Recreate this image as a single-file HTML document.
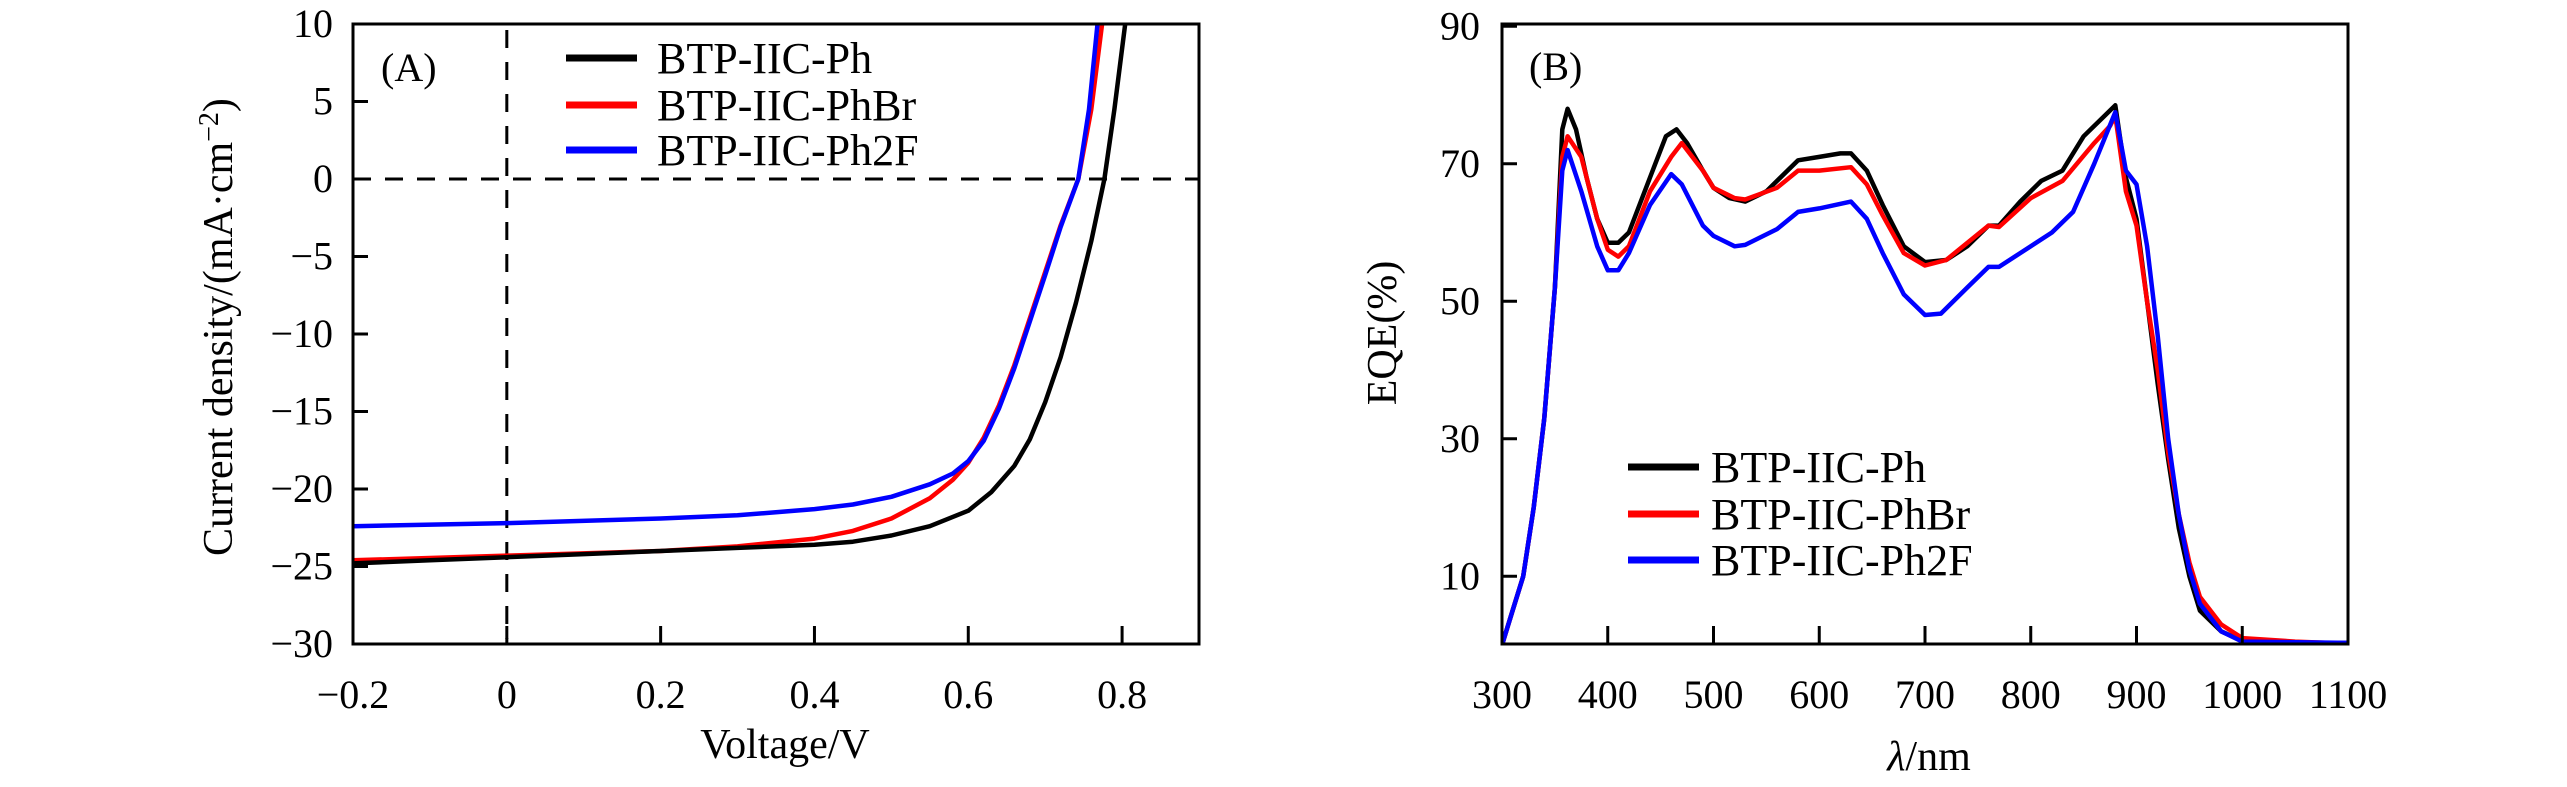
<!DOCTYPE html>
<html><head><meta charset="utf-8"><style>
html,body{margin:0;padding:0;background:#fff;width:2567px;height:787px;overflow:hidden}
svg{display:block}
text{font-family:"Liberation Serif",serif;fill:#000}
</style></head><body>
<svg id="chart" width="2567" height="787" viewBox="0 0 2567 787">
<g id="pa"></g>
<g id="pb"></g>
</svg>
<script>
// Panel A data (J-V)
const vPh=[-0.2,-0.1,0,0.1,0.2,0.3,0.4,0.45,0.5,0.55,0.6,0.63,0.66,0.68,0.7,0.72,0.74,0.76,0.777,0.79,0.804];
const jPh=[-24.8,-24.6,-24.4,-24.2,-24.0,-23.8,-23.6,-23.4,-23.0,-22.4,-21.4,-20.2,-18.5,-16.8,-14.4,-11.5,-8.0,-4.0,0,4.5,10];
const vPhBr=[-0.2,0,0.2,0.3,0.4,0.45,0.5,0.55,0.58,0.6,0.62,0.64,0.66,0.68,0.7,0.72,0.743,0.76,0.774];
const jPhBr=[-24.6,-24.3,-24.0,-23.7,-23.2,-22.7,-21.9,-20.6,-19.4,-18.3,-16.7,-14.6,-12,-9,-6,-3,0,4.5,10];
const vPh2F=[-0.2,0,0.2,0.3,0.4,0.45,0.5,0.55,0.58,0.6,0.62,0.64,0.66,0.68,0.7,0.72,0.743,0.757,0.768];
const jPh2F=[-22.4,-22.2,-21.9,-21.7,-21.3,-21.0,-20.5,-19.7,-19.0,-18.2,-16.9,-14.8,-12.2,-9.2,-6.2,-3.1,0,4.5,10];
const aXTicks=[-0.2,0,0.2,0.4,0.6,0.8];
const aXLabels=["\u22120.2","0","0.2","0.4","0.6","0.8"];
const aYTicks=[10,5,0,-5,-10,-15,-20,-25,-30];
const aYLabels=["10","5","0","\u22125","\u221210","\u221215","\u221220","\u221225","\u221230"];
// Panel B data (EQE)
const wPh=[300,310,320,330,340,350,357,362,370,380,390,400,410,420,440,455,465,475,490,500,515,530,550,570,580,600,620,630,645,660,680,700,720,740,760,770,790,810,830,850,870,880,890,900,910,920,930,940,950,960,980,1000,1050,1100];
const ePh=[0,5,10,20,33,52,75,78,75,68,62,58.5,58.5,60,68,74,75,73,69,66.5,65,64.5,66,69,70.5,71,71.5,71.5,69,64,58,55.7,56,58,61,61,64.5,67.5,69,74,77,78.5,68,62,50,38,27,17,10,5,2,0.6,0.3,0.3];
const wPhBr=[300,310,320,330,340,350,357,362,375,390,400,410,420,440,460,470,490,500,520,530,560,580,600,630,645,660,680,700,720,760,770,800,830,860,875,880,890,900,910,920,930,940,950,960,980,1000,1050,1100];
const ePhBr=[0,5,10,20,33,52,71,74,71,62,57.5,56.5,58,66,71,73,69,66.5,65,64.8,66.5,69,69,69.5,67,62.5,57,55.2,56,61,60.8,65,67.5,73,75.5,77,66,61,50,40,28,19,12,7,3,1,0.5,0.2];
const wPh2F=[300,310,320,330,340,350,357,362,375,390,400,410,420,440,460,470,490,500,520,530,560,580,600,630,645,660,680,700,715,740,760,770,790,820,840,860,880,890,900,910,920,930,940,950,960,980,1000,1100];
const ePh2F=[0,5,10,20,33,52,69,72,66,58,54.5,54.5,57,64,68.5,67,61,59.5,58,58.2,60.5,63,63.5,64.5,62,57,51,48,48.2,52,55,55,57,60,63,70,77.5,69,67,58,45,30,19,11,6,2,0.5,0.3];
const bXTicks=[300,400,500,600,700,800,900,1000,1100];
const bYTicks=[10,30,50,70,90];

const NS="http://www.w3.org/2000/svg";
function mk(parent,tag,attrs,txt){const e=document.createElementNS(NS,tag);for(const k in attrs)e.setAttribute(k,attrs[k]);if(txt!==undefined)e.textContent=txt;parent.appendChild(e);return e;}

// ---------- Panel A ----------
const pa=document.getElementById('pa');
const AL=353,AR=1199,AT=24,AB=644;
const ax=v=>AL+(v+0.2)/1.1*(AR-AL);
const ay=j=>AT+(10-j)/40*(AB-AT);
function lineA(vs,js,color,name){
  let d=vs.map((v,i)=>(i?'L':'M')+ax(v).toFixed(1)+' '+ay(js[i]).toFixed(1)).join(' ');
  const p=mk(pa,'path',{d:d,fill:'none',stroke:color,'stroke-width':4.5,'stroke-linejoin':'round','clip-path':'url(#clipA)'});
  
  
}
const defs=mk(document.getElementById('chart'),'defs',{});
const ca=mk(defs,'clipPath',{id:'clipA'});mk(ca,'rect',{x:AL,y:AT,width:AR-AL,height:AB-AT});
const cb=mk(defs,'clipPath',{id:'clipB'});
let dz=mk(pa,'line',{x1:AL,x2:AR,y1:ay(0),y2:ay(0),stroke:'#000','stroke-width':3,'stroke-dasharray':'18 14'});


let dv=mk(pa,'line',{x1:ax(0),x2:ax(0),y1:AT+6,y2:AB-5,stroke:'#000','stroke-width':3,'stroke-dasharray':'18 14'});


lineA(vPhBr,jPhBr,'#ff0000','series-phbr');
lineA(vPh2F,jPh2F,'#0000ff','series-ph2f');
lineA(vPh,jPh,'#000000','series-ph');
let fa=mk(pa,'rect',{x:AL,y:AT,width:AR-AL,height:AB-AT,fill:'none',stroke:'#000','stroke-width':3});


aXTicks.forEach((v,i)=>{
  mk(pa,'line',{x1:ax(v),x2:ax(v),y1:AB,y2:AB-18,stroke:'#000','stroke-width':3});
  const t=mk(pa,'text',{x:ax(v),y:AB+64,'font-size':40,'text-anchor':'middle'},aXLabels[i]);
  
  
});
aYTicks.forEach((v,i)=>{
  mk(pa,'line',{x1:AL,x2:AL+15,y1:ay(v),y2:ay(v),stroke:'#000','stroke-width':3});
  const t=mk(pa,'text',{x:AL-20,y:ay(v)+13,'font-size':40,'text-anchor':'end'},aYLabels[i]);
  
  
});
let xa=mk(pa,'text',{x:785,y:758,'font-size':42,'text-anchor':'middle'},'Voltage/V');


let ya=mk(pa,'text',{x:0,y:0,'font-size':42,'text-anchor':'middle',transform:'translate(232,327) rotate(-90)'});
ya.innerHTML='Current density/(mA\u00b7cm<tspan dy="-14" font-size="28">\u22122</tspan><tspan dy="14">)</tspan>';


let la=mk(pa,'text',{x:381,y:81,'font-size':40},'(A)');


function legend(g,x1,x2,tx,ys,fs){
  const names=['BTP-IIC-Ph','BTP-IIC-PhBr','BTP-IIC-Ph2F'],cols=['#000','#ff0000','#0000ff'];
  names.forEach((n,i)=>{
    const l=mk(g,'line',{x1:x1,x2:x2,y1:ys[i],y2:ys[i],stroke:cols[i],'stroke-width':7});
    
    
    const t=mk(g,'text',{x:tx,y:ys[i]+15,'font-size':fs},n);
    
    
  });
}
legend(pa,566,637,657,[58,105,150],44);

// ---------- Panel B ----------
const pb=document.getElementById('pb');
const BL=1502,BR=2348,BT=24,BB=644;
const bx=w=>BL+(w-300)/800*(BR-BL);
const by=e=>645-e*6.875;
mk(cb,'rect',{x:BL,y:BT,width:BR-BL,height:BB-BT});
function lineB(ws,es,color,name){
  let d=ws.map((w,i)=>(i?'L':'M')+bx(w).toFixed(1)+' '+by(es[i]).toFixed(1)).join(' ');
  const p=mk(pb,'path',{d:d,fill:'none',stroke:color,'stroke-width':4.5,'stroke-linejoin':'round','clip-path':'url(#clipB)'});
  
  
}
lineB(wPh,ePh,'#000000','series-ph');
lineB(wPhBr,ePhBr,'#ff0000','series-phbr');
lineB(wPh2F,ePh2F,'#0000ff','series-ph2f');
let fb=mk(pb,'rect',{x:BL,y:BT,width:BR-BL,height:BB-BT,fill:'none',stroke:'#000','stroke-width':3});


bXTicks.forEach(w=>{
  mk(pb,'line',{x1:bx(w),x2:bx(w),y1:BB,y2:BB-18,stroke:'#000','stroke-width':3});
  const t=mk(pb,'text',{x:bx(w),y:BB+64,'font-size':40,'text-anchor':'middle'},String(w));
  
  
});
bYTicks.forEach(v=>{
  mk(pb,'line',{x1:BL,x2:BL+15,y1:by(v),y2:by(v),stroke:'#000','stroke-width':3});
  const t=mk(pb,'text',{x:BL-22,y:by(v)+13,'font-size':40,'text-anchor':'end'},String(v));
  
  
});
let xb=mk(pb,'text',{x:1929,y:770,'font-size':42,'text-anchor':'middle'});
xb.innerHTML='<tspan font-style="italic">\u03bb</tspan>/nm';


let yb=mk(pb,'text',{x:0,y:0,'font-size':42,'text-anchor':'middle',transform:'translate(1396,333) rotate(-90)'},'EQE(%)');


let lb=mk(pb,'text',{x:1529,y:80,'font-size':40},'(B)');


legend(pb,1628,1699,1711,[467,514,560],44);
</script>
</body></html>
